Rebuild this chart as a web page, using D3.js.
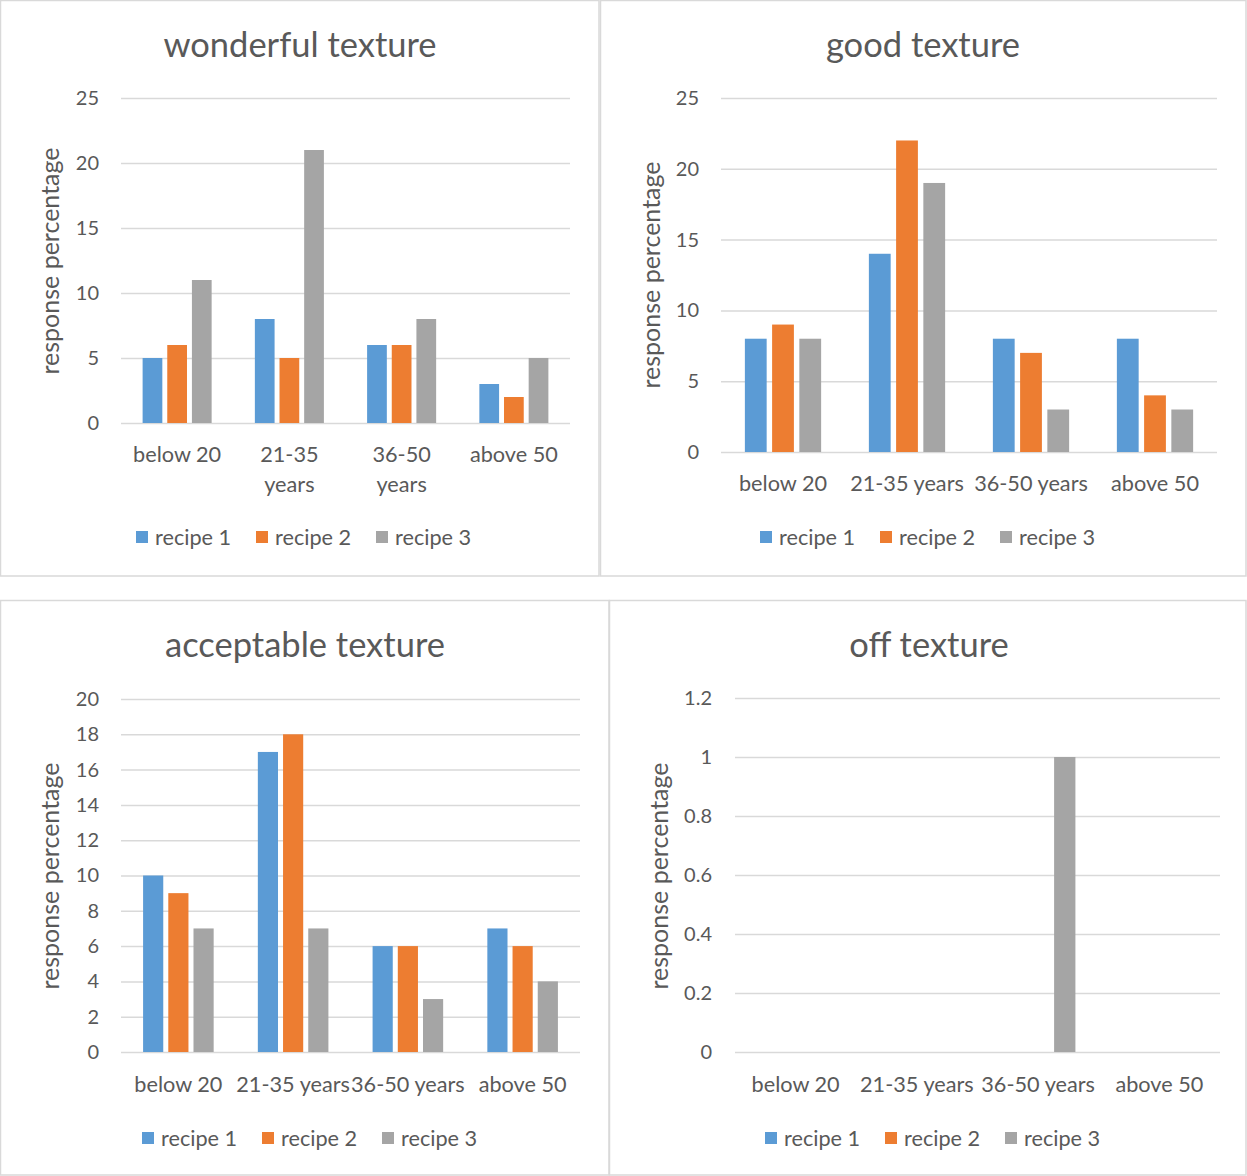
<!DOCTYPE html>
<html>
<head>
<meta charset="utf-8">
<script src="https://cdn.jsdelivr.net/npm/d3@7"></script>
<style>
  html, body { margin: 0; padding: 0; background: #fff; }
  svg { display: block; }
  text { font-family: Lato, "Noto Sans", sans-serif; fill: #595959; }
</style>
</head>
<body>
<svg id="chart" width="1247" height="1176"></svg>
<script>
// ---- data ----
const categories = ["below 20", "21-35 years", "36-50 years", "above 50"];
const seriesNames = ["recipe 1", "recipe 2", "recipe 3"];
const seriesColors = ["#5B9BD5", "#ED7D31", "#A5A5A5"];

const wonderfulTitle = "wonderful texture";
const wonderfulRecipe1 = [5, 8, 6, 3];
const wonderfulRecipe2 = [6, 5, 6, 2];
const wonderfulRecipe3 = [11, 21, 8, 5];
const wonderfulTicks = [0, 5, 10, 15, 20, 25];

const goodTitle = "good texture";
const goodRecipe1 = [8, 14, 8, 8];
const goodRecipe2 = [9, 22, 7, 4];
const goodRecipe3 = [8, 19, 3, 3];
const goodTicks = [0, 5, 10, 15, 20, 25];

const acceptableTitle = "acceptable texture";
const acceptableRecipe1 = [10, 17, 6, 7];
const acceptableRecipe2 = [9, 18, 6, 6];
const acceptableRecipe3 = [7, 7, 3, 4];
const acceptableTicks = [0, 2, 4, 6, 8, 10, 12, 14, 16, 18, 20];

const offTitle = "off texture";
const offRecipe1 = [0, 0, 0, 0];
const offRecipe2 = [0, 0, 0, 0];
const offRecipe3 = [0, 0, 1, 0];
const offTicks = [0, 0.2, 0.4, 0.6, 0.8, 1, 1.2];

const yAxisTitle = "response percentage";

// ---- layout ----
const svg = d3.select("#chart");

const panels = [
  { title: wonderfulTitle, series: [wonderfulRecipe1, wonderfulRecipe2, wonderfulRecipe3], ticks: wonderfulTicks,
    box: [0.5, 0.5, 599, 576], plot: { x0: 121, x1: 570, y0: 423, y1: 98 }, titleX: 300, titleY: 57,
    yLabelX: 59, yLabelY: 261, tickRight: 99, xLabelY: 462, wrap: true, legendX: 136, legendY: 537 },
  { title: goodTitle, series: [goodRecipe1, goodRecipe2, goodRecipe3], ticks: goodTicks,
    box: [600.5, 0.5, 1246, 576], plot: { x0: 721, x1: 1217, y0: 452, y1: 98 }, titleX: 923, titleY: 57,
    yLabelX: 660, yLabelY: 275, tickRight: 699, xLabelY: 491, wrap: false, legendX: 760, legendY: 537 },
  { title: acceptableTitle, series: [acceptableRecipe1, acceptableRecipe2, acceptableRecipe3], ticks: acceptableTicks,
    box: [0.5, 600.5, 609, 1175], plot: { x0: 121, x1: 580, y0: 1052, y1: 699 }, titleX: 305, titleY: 657,
    yLabelX: 59, yLabelY: 876, tickRight: 99, xLabelY: 1092, wrap: false, legendX: 142, legendY: 1138 },
  { title: offTitle, series: [offRecipe1, offRecipe2, offRecipe3], ticks: offTicks,
    box: [609.5, 600.5, 1246, 1175], plot: { x0: 735, x1: 1220, y0: 1052, y1: 698 }, titleX: 929, titleY: 657,
    yLabelX: 668, yLabelY: 876, tickRight: 712, xLabelY: 1092, wrap: false, legendX: 765, legendY: 1138 }
];

panels.forEach(p => {
  const g = svg.append("g");
  // panel border
  g.append("rect")
    .attr("x", p.box[0]).attr("y", p.box[1])
    .attr("width", p.box[2] - p.box[0]).attr("height", p.box[3] - p.box[1])
    .attr("fill", "#fff").attr("stroke", "#D9D9D9").attr("stroke-width", 1.5);

  const x = d3.scaleBand().domain(categories).range([p.plot.x0, p.plot.x1]).padding(0);
  const groupW = x.bandwidth() * 0.615;
  const xs = d3.scaleBand().domain(seriesNames).range([0, groupW]).paddingInner(0.2).paddingOuter(0);
  const yMax = p.ticks[p.ticks.length - 1];
  const y = d3.scaleLinear().domain([0, yMax]).range([p.plot.y0, p.plot.y1]);

  // gridlines + tick labels
  const yAxis = d3.axisLeft(y).tickValues(p.ticks).tickSize(-(p.plot.x1 - p.plot.x0)).tickPadding(22)
    .tickFormat(d => d3.format("~g")(d));
  const ag = g.append("g").attr("transform", `translate(${p.plot.x0},0)`).call(yAxis);
  ag.select(".domain").remove();
  ag.selectAll(".tick line").attr("stroke", "#D9D9D9").attr("stroke-width", 1.5);
  ag.selectAll(".tick text")
    .attr("x", p.tickRight - p.plot.x0)
    .attr("text-anchor", "end")
    .style("font-family", "Lato, 'Noto Sans', sans-serif")
    .style("font-size", "20px").style("fill", "#595959");

  // bars
  seriesNames.forEach((s, si) => {
    g.append("g").selectAll("rect")
      .data(p.series[si].map((v, ci) => ({ c: categories[ci], v })))
      .join("rect")
      .attr("x", d => x(d.c) + (x.bandwidth() - groupW) / 2 + xs(s))
      .attr("width", xs.bandwidth())
      .attr("y", d => y(d.v))
      .attr("height", d => y(0) - y(d.v))
      .attr("fill", seriesColors[si]);
  });

  // x axis labels
  const xg = g.append("g");
  categories.forEach(c => {
    const cx = x(c) + x.bandwidth() / 2;
    const t = xg.append("text")
      .attr("x", cx)
      .attr("y", p.xLabelY)
      .attr("text-anchor", "middle")
      .style("font-size", "21.7px");
    if (p.wrap && c.includes("years")) {
      const parts = c.split(" ");
      t.append("tspan").attr("x", cx).attr("dy", 0).text(parts[0]);
      t.append("tspan").attr("x", cx).attr("dy", 30).text(parts[1]);
    } else {
      t.text(c);
    }
  });

  // title
  g.append("text").attr("x", p.titleX).attr("y", p.titleY)
    .attr("text-anchor", "middle").style("font-size", "34.5px").text(p.title);

  // y axis title
  g.append("text")
    .attr("transform", `translate(${p.yLabelX},${p.yLabelY}) rotate(-90)`)
    .attr("text-anchor", "middle").style("font-size", "25px").text(yAxisTitle);

  // legend
  const lg = g.append("g").attr("transform", `translate(${p.legendX},${p.legendY})`);
  seriesNames.forEach((s, si) => {
    const it = lg.append("g").attr("transform", `translate(${si * 120},0)`);
    it.append("rect").attr("x", 0).attr("y", -6).attr("width", 12).attr("height", 12).attr("fill", seriesColors[si]);
    it.append("text").attr("x", 19).attr("y", 7.5).style("font-size", "21.7px").text(s);
  });
});
</script>
</body>
</html>
